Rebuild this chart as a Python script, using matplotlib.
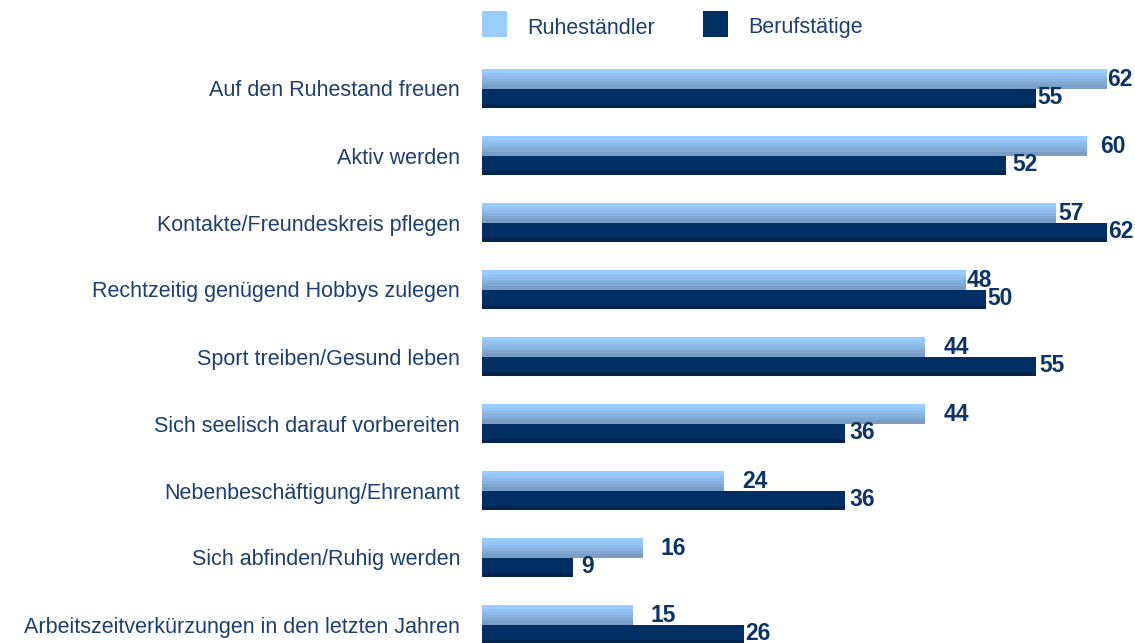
import matplotlib
matplotlib.use("Agg")
import matplotlib.pyplot as plt
import numpy as np
from matplotlib.patches import Rectangle

plt.rcParams['font.family'] = ['Liberation Sans', 'DejaVu Sans']

categories = ["Auf den Ruhestand freuen", "Aktiv werden", "Kontakte/Freundeskreis pflegen",
              "Rechtzeitig genügend Hobbys zulegen", "Sport treiben/Gesund leben",
              "Sich seelisch darauf vorbereiten", "Nebenbeschäftigung/Ehrenamt",
              "Sich abfinden/Ruhig werden", "Arbeitszeitverkürzungen in den letzten Jahren"]
ruhe = [62, 60, 57, 48, 44, 44, 24, 16, 15]
beruf = [55, 52, 62, 50, 55, 36, 36, 9, 26]
series_names = ["Ruheständler", "Berufstätige"]

# label gaps (in data units) as in the original layout
pad_ruhe = [0.05, 1.3, 0.2, 0.1, 1.8, 1.8, 1.8, 1.7, 1.7]
pad_beruf = [0.1, 0.6, 0.1, 0.1, 0.3, 0.5, 0.5, 0.8, 0.1]

light_bands = ["#99CCFF", "#94C4F5", "#8EBBEA", "#87B1DE", "#80A7D2", "#7A9DC6"]
dark_top = "#002F63"
text_col = "#1B3F6E"
num_col = "#0B3366"
numfont = ['Liberation Sans Narrow', 'Liberation Sans']

fig = plt.figure(figsize=(11.35, 6.43), dpi=100)
ax = fig.add_axes([482 / 1135, 0, 1 - 482 / 1135, 1])

y = np.arange(len(categories))
h = 0.284
nb = len(light_bands)
for k, c in enumerate(light_bands):
    ax.barh(y - h + k * h / nb, ruhe, height=h / nb, align='edge', color=c, linewidth=0)
ax.barh(y, beruf, height=h, align='edge', color=dark_top, linewidth=0)
ax.barh(y + h * 0.8, beruf, height=h * 0.2, align='edge', color="#00264F", linewidth=0)

for i in range(len(categories)):
    ax.text(ruhe[i] + pad_ruhe[i], y[i] - h / 2 + 0.01, str(ruhe[i]), va='center', ha='left',
            fontsize=16.5, fontweight='bold', color=num_col, family=numfont)
    ax.text(beruf[i] + pad_beruf[i], y[i] + h / 2 - 0.005, str(beruf[i]), va='center', ha='left',
            fontsize=16.5, fontweight='bold', color=num_col, family=numfont)
    fig.text(460 / 1135, 1 - (91 + 67 * i) / 643, categories[i], ha='right', va='center',
             fontsize=15.5, color=text_col)

ax.set_xlim(0, 64.8)
ax.set_ylim((643 - 88.5) / 67, -88.5 / 67)
ax.axis('off')

# legend
for x0, c, name in [(482, "#99CCFF", series_names[0]), (703, dark_top, series_names[1])]:
    fig.patches.append(Rectangle((x0 / 1135, 1 - 37 / 643), 25 / 1135, 26 / 643,
                                 transform=fig.transFigure, color=c, linewidth=0))
    fig.text((x0 + 45) / 1135, 1 - 28 / 643, name, ha='left', va='center', fontsize=15.5, color=text_col)

fig.savefig("out.png", dpi=100)
